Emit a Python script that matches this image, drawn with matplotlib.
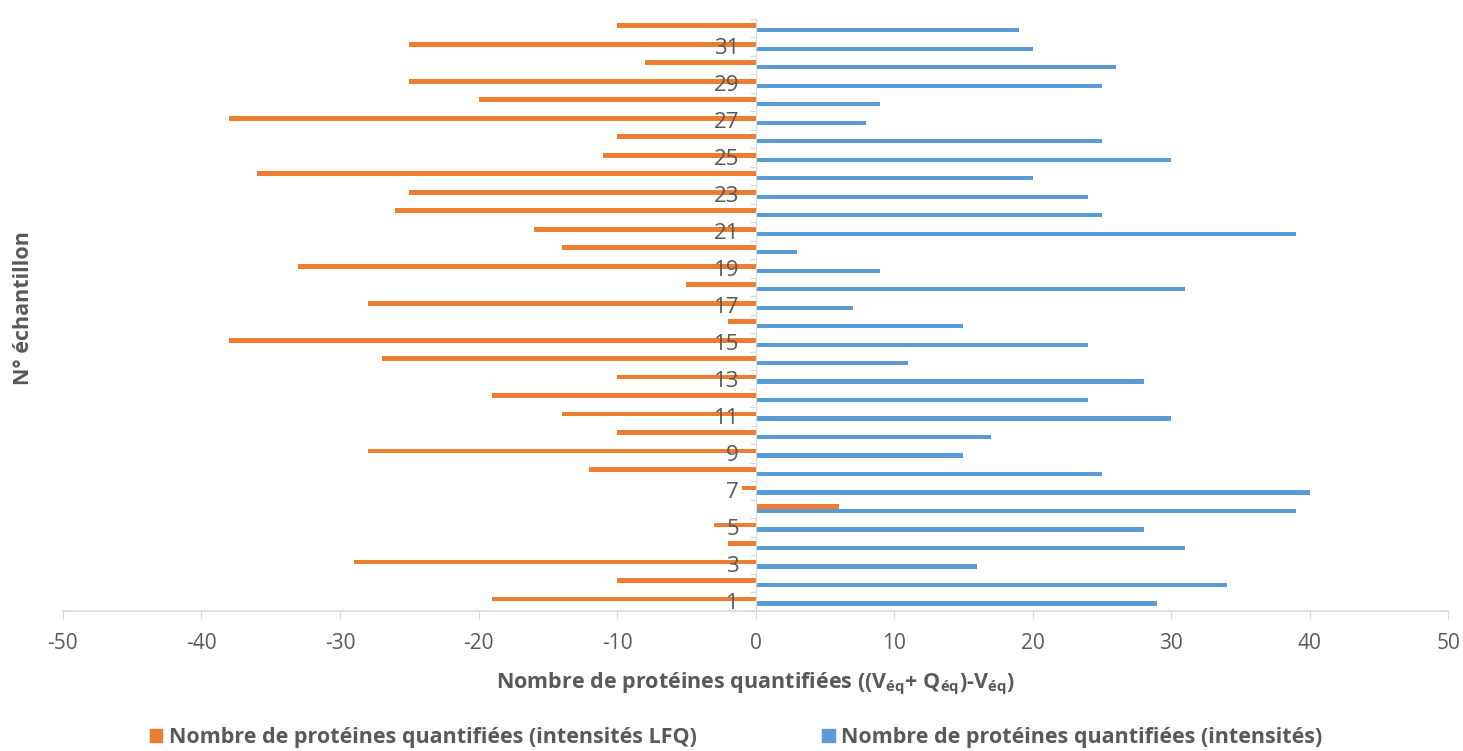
import matplotlib
matplotlib.use('Agg')
import matplotlib.pyplot as plt
import numpy as np
from matplotlib.patches import Patch

plt.rcParams['font.family'] = ['Open Sans', 'DejaVu Sans']
plt.rcParams['mathtext.fontset'] = 'custom'
plt.rcParams['mathtext.rm'] = 'Open Sans'
plt.rcParams['mathtext.bf'] = 'Open Sans:bold'

# data
samples = list(range(1, 33))
lfq = [-19, -10, -29, -2, -3, 6, -1, -12, -28, -10, -14, -19, -10, -27, -38, -2,
       -28, -5, -33, -14, -16, -26, -25, -36, -11, -10, -38, -20, -25, -8, -25, -10]
intens = [29, 34, 16, 31, 28, 39, 40, 25, 15, 17, 30, 24, 28, 11, 24, 15,
          7, 31, 9, 3, 39, 25, 24, 20, 30, 25, 8, 9, 25, 26, 20, 19]
xticks = list(range(-50, 51, 10))

ORANGE = '#ED7D31'
BLUE = '#5B9BD5'
TEXT = '#595959'
AXIS = '#D9D9D9'

fig = plt.figure(figsize=(14.63, 7.51), dpi=100)
ax = fig.add_axes([0.043, 0.187, 0.947, 0.788])

y = np.array(samples, dtype=float)
ax.barh(y + 0.12, lfq, height=0.25, color=ORANGE)
ax.barh(y - 0.12, intens, height=0.23, color=BLUE)

ax.set_xlim(-50, 50)
ax.set_ylim(0.5, 32.5)

for s in ['top', 'right']:
    ax.spines[s].set_visible(False)
ax.spines['left'].set_position(('data', 0))
ax.spines['left'].set_color(AXIS)
ax.spines['bottom'].set_color(AXIS)
ax.spines['bottom'].set_linewidth(1.2)

ax.set_xticks(xticks)
ax.set_xticklabels([str(v) for v in xticks], fontsize=15, color=TEXT)
ax.tick_params(axis='x', length=6, color=AXIS, pad=10)

ax.set_yticks(np.arange(0.5, 33, 1.0))
ax.set_yticklabels([])
ax.tick_params(axis='y', length=4, color=AXIS, direction='out')

for s in samples:
    if s % 2 == 1:
        ax.text(-1.2, s - 0.12, str(s), ha='right', va='center', fontsize=16, color=TEXT)

ax.set_xlabel(r'Nombre de protéines quantifiées ((V$_{\mathbf{éq}}$+ Q$_{\mathbf{éq}}$)-V$_{\mathbf{éq}}$)',
              fontsize=15.5, fontweight='bold', color=TEXT, labelpad=12)
fig.text(0.016, 0.59, 'N° échantillon', rotation=90, ha='center', va='center',
         fontsize=15.5, fontweight='bold', color=TEXT)

handles = [Patch(color=ORANGE, label='Nombre de protéines quantifiées (intensités LFQ)'),
           Patch(color=BLUE, label='Nombre de protéines quantifiées (intensités)')]
leg = fig.legend(handles=handles, loc='lower center', bbox_to_anchor=(0.503, -0.022), ncol=2,
                 frameon=False, fontsize=15.5, handlelength=0.6, handleheight=0.6,
                 handletextpad=0.3, columnspacing=5.8)
for t in leg.get_texts():
    t.set_color(TEXT)
    t.set_fontweight('bold')

fig.savefig('out.png', dpi=100, facecolor='white')
